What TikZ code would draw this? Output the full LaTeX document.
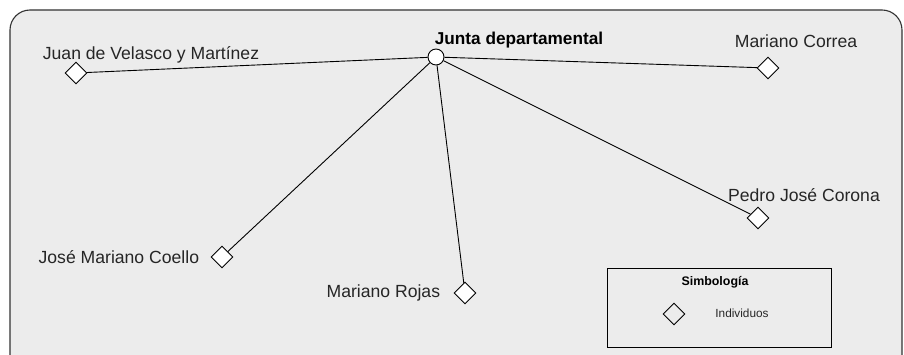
\documentclass[tikz,border=0pt]{standalone}
\usepackage{fontspec}
\setmainfont{Liberation Sans}
\usetikzlibrary{shapes.geometric,positioning}

\begin{document}
\begin{tikzpicture}[x=1pt,y=-1pt,node distance=20pt,line width=0.9pt,
   ind/.style={diamond,draw,fill=white,inner sep=0pt,minimum width=22pt,minimum height=22pt},
   hub/.style={circle,draw,fill=white,inner sep=0pt,minimum size=16pt},
   persona/.style={inner sep=0pt,font=\fontsize{17.6}{20}\selectfont,text=black!85},
   titulo/.style={inner sep=0pt,font=\fontsize{17.2}{20}\selectfont\bfseries}]
   \clip (0,0) rectangle (904,355);
   \draw[draw=black!80,fill=black!7.5,line width=1.1pt,rounded corners=20pt] (10,10) rectangle (902,375);

   \node[hub] (junta) at (436,57) {};
   \node[titulo] (juntaname) [on grid,above=17pt of junta,xshift=83pt] {Junta departamental};

   \node[ind] (juan) at (76,73) {};
   \node[persona] (juanname) [on grid,above=18pt of juan,xshift=75pt] {Juan de Velasco y Martínez};
   \node[ind] (correa) at (768,68) {};
   \node[persona] (correaname) [on grid,above=27pt of correa,xshift=28pt] {Mariano Correa};
   \node[ind] (pedro) at (758,218) {};
   \node[persona] (pedroname) [on grid,above=23pt of pedro,xshift=46pt] {Pedro José Corona};
   \node[ind] (coello) at (222,257) {};
   \node[persona] (coelloname) [left=11pt of coello] {José Mariano Coello};
   \node[ind] (rojas) at (465,293) {};
   \node[persona] (rojasname) [left=13pt of rojas] {Mariano Rojas};

   \path[draw]
   (junta) edge (juan)
           edge (correa)
           edge (pedro)
           edge (coello)
           edge (rojas);

   % simbologia
   \node[draw,minimum width=224pt,minimum height=79pt,inner sep=0pt] (legend) at (719,307.5) {};
   \node[inner sep=0pt,font=\fontsize{12.4}{14}\selectfont\bfseries] (legendtitle) at (715,282) {Simbología};
   \node[ind,fill=none] (legendind) at (674,314) {};
   \node[inner sep=0pt,font=\fontsize{11.8}{13}\selectfont,text=black!85] (legendtext) at (742,313) {Individuos};
\end{tikzpicture}
\end{document}
